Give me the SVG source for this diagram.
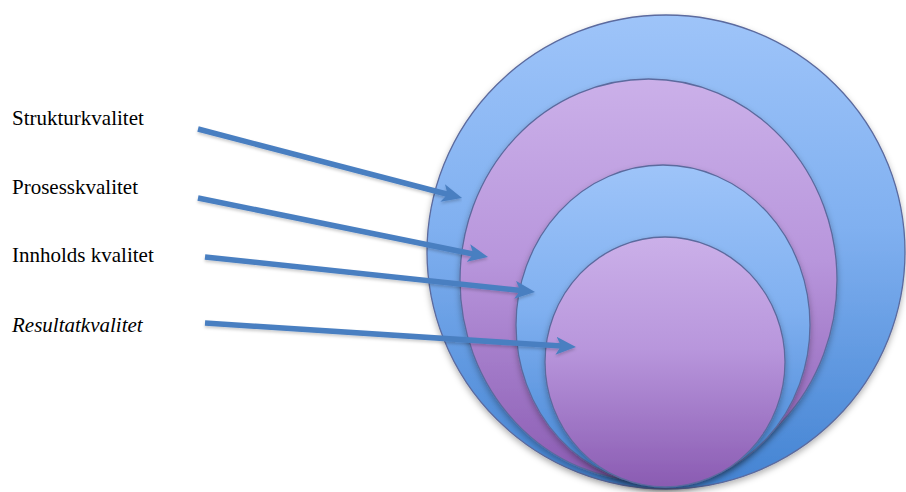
<svg xmlns="http://www.w3.org/2000/svg" width="906" height="492" viewBox="0 0 906 492">
  <style>
    .lbl { font-family: 'Liberation Serif', 'Times New Roman', serif; font-size: 21px; fill: #000; }
    .ring { stroke: #5b6a9e; stroke-width: 1.3; filter: url(#sh); }
    .blue { fill: url(#gBlue); }
    .purple { fill: url(#gPurple); }
    .arrow { fill: none; stroke: #4a7fc1; stroke-width: 5.5; stroke-linecap: butt; marker-end: url(#head); filter: url(#ash); }
  </style>
  <defs>
    <linearGradient id="gBlue" x1="0" y1="0" x2="0" y2="1">
      <stop offset="0" stop-color="#9ec4f9"/>
      <stop offset="0.45" stop-color="#80b0f0"/>
      <stop offset="1" stop-color="#4383d2"/>
    </linearGradient>
    <linearGradient id="gPurple" x1="0" y1="0" x2="0" y2="1">
      <stop offset="0" stop-color="#cbb0e9"/>
      <stop offset="0.45" stop-color="#b896dc"/>
      <stop offset="1" stop-color="#8a5bb2"/>
    </linearGradient>
    <filter id="sh" x="-10%" y="-10%" width="120%" height="125%">
      <feDropShadow dx="0" dy="3" stdDeviation="3" flood-color="#000" flood-opacity="0.3"/>
    </filter>
    <filter id="ash" x="-5%" y="-50%" width="110%" height="200%">
      <feDropShadow dx="0" dy="2" stdDeviation="1.5" flood-color="#000" flood-opacity="0.2"/>
    </filter>
    <marker id="head" markerUnits="userSpaceOnUse" viewBox="0 0 20 18" markerWidth="20" markerHeight="18" refX="6" refY="9" orient="auto">
      <path d="M0,0 L20,9 L0,18 L5,9 z" fill="#4a7fc1"/>
    </marker>
  </defs>

  <g id="outer-circle">
    <ellipse class="ring blue" cx="666" cy="252" rx="239" ry="237"/>
  </g>
  <g id="circle-2">
    <ellipse class="ring purple" cx="648.5" cy="280" rx="188.5" ry="201"/>
  </g>
  <g id="circle-3">
    <ellipse class="ring blue" cx="663" cy="325" rx="147" ry="160"/>
  </g>
  <g id="circle-4">
    <ellipse class="ring purple" cx="665" cy="362" rx="120" ry="125"/>
  </g>

  <g id="label-struktur"><text class="lbl" x="12" y="125">Strukturkvalitet</text></g>
  <g id="label-prosess"><text class="lbl" x="12" y="194">Prosesskvalitet</text></g>
  <g id="label-innhold"><text class="lbl" x="12" y="262">Innholds kvalitet</text></g>
  <g id="label-resultat"><text class="lbl" font-style="italic" x="12" y="332">Resultatkvalitet</text></g>

  <g id="connectors">
    <line class="arrow" x1="198" y1="129" x2="448.5" y2="194.5"/>
    <line class="arrow" x1="198" y1="198" x2="474.3" y2="254.2"/>
    <line class="arrow" x1="205" y1="257" x2="521.1" y2="290.5"/>
    <line class="arrow" x1="205" y1="323" x2="562" y2="346.1"/>
  </g>
</svg>
